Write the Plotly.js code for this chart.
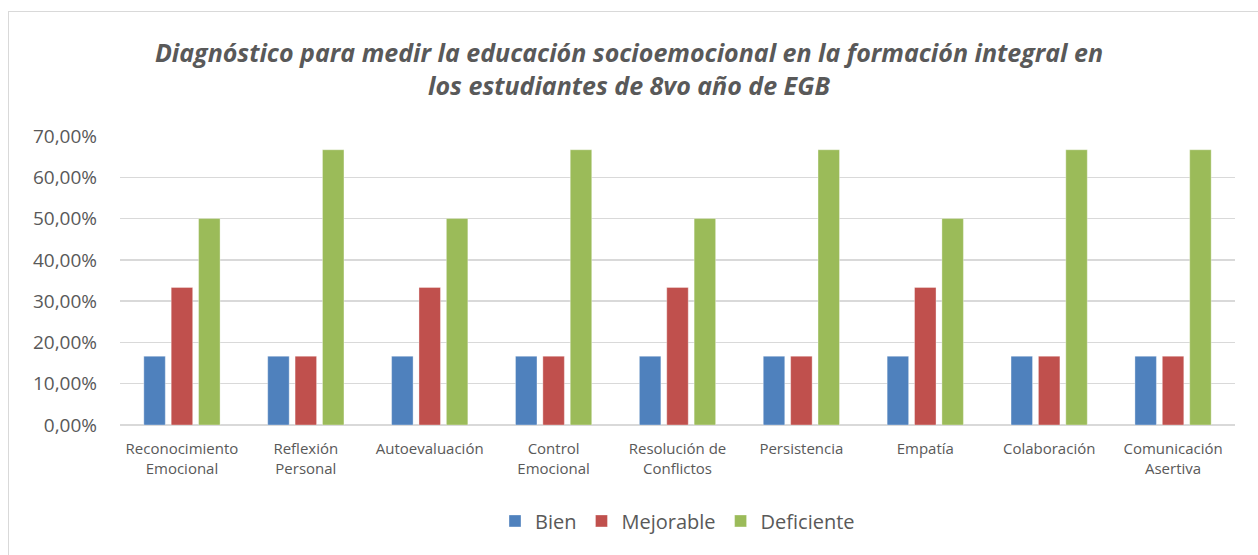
<!DOCTYPE html>
<html><head><meta charset="utf-8">
<script src="https://cdn.plot.ly/plotly-3.0.1.min.js"></script>
<style>
html,body{margin:0;padding:0;background:#fff;width:1258px;height:555px;overflow:hidden}
#frame{position:absolute;left:8px;top:11px;width:1270px;height:560px;border:1px solid #d9d9d9;pointer-events:none;z-index:5}
#chart{position:absolute;left:0;top:0;width:1258px;height:555px}
</style></head>
<body>
<div id="chart"></div>
<div id="frame"></div>
<script>
const categories = ["Reconocimiento<br>Emocional","Reflexión<br>Personal","Autoevaluación","Control<br>Emocional","Resolución de<br>Conflictos","Persistencia","Empatía","Colaboración","Comunicación<br>Asertiva"];
const bien = [0.1667,0.1667,0.1667,0.1667,0.1667,0.1667,0.1667,0.1667,0.1667];
const mejorable = [0.3333,0.1667,0.3333,0.1667,0.3333,0.1667,0.3333,0.1667,0.1667];
const deficiente = [0.5,0.6667,0.5,0.6667,0.5,0.6667,0.5,0.6667,0.6667];
const seriesNames = ["Bien","Mejorable","Deficiente"];
const colors = ["#4F81BD","#C0504D","#9BBB59"];
const tickVals = [0,0.1,0.2,0.3,0.4,0.5,0.6,0.7];
const tickText = ["0,00%","10,00%","20,00%","30,00%","40,00%","50,00%","60,00%","70,00%"];

const font = "Open Sans, Noto Sans, sans-serif";
const traces = [bien, mejorable, deficiente].map((v,i)=>({
  type:"bar", x:categories, y:v, name:seriesNames[i],
  marker:{color:colors[i], line:{color:"rgba(255,255,255,0.35)", width:1}},
  hoverinfo:"skip"
}));
const layout = {
  width:1258, height:555,
  paper_bgcolor:"rgba(0,0,0,0)", plot_bgcolor:"#fff",
  margin:{l:120, r:23, t:136, b:130},
  barmode:"group", bargap:0.337, bargroupgap:0.215,
  title:{text:"<b><i>Diagnóstico para medir la educación socioemocional en la formación integral en<br>los estudiantes de 8vo año de EGB</i></b>",
    font:{family:font, size:25, color:"#595959"}, x:0.5, xanchor:"center", yref:"container", y:0.888, yanchor:"top"},
  xaxis:{tickfont:{family:font, size:15, color:"#595959"}, showgrid:false, showline:false, ticks:"", ticklabelstandoff:13, automargin:false},
  yaxis:{range:[0,0.7], tickvals:tickVals, ticktext:tickText, tickfont:{family:font, size:19, color:"#595959"},
    gridcolor:"#d9d9d9", gridwidth:1.5, zeroline:true, zerolinecolor:"#d9d9d9", zerolinewidth:1.5, showline:false, ticks:"", ticklen:0, ticklabelstandoff:22, automargin:false},
  showlegend:true,
  legend:{orientation:"h", x:0.5, xanchor:"center", y:-0.332, yanchor:"middle", font:{family:font, size:20, color:"#595959"}, itemwidth:30, traceorder:"normal"}
};
Plotly.newPlot("chart", traces, layout, {staticPlot:true, displayModeBar:false});
</script>
</body></html>
